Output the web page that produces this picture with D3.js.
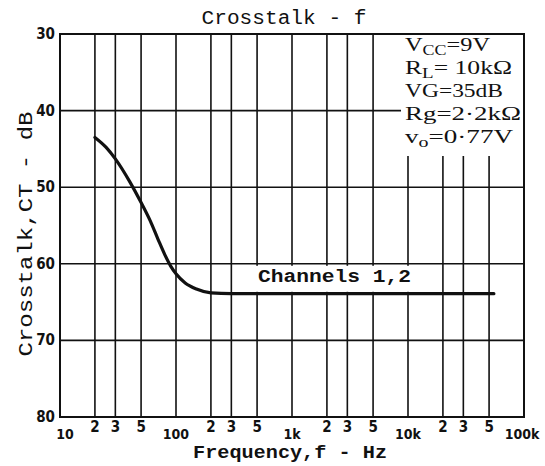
<!DOCTYPE html>
<html>
<head>
<meta charset="utf-8">
<script src="https://cdn.jsdelivr.net/npm/d3@7"></script>
<style>
  body { margin: 0; background: #fff; }
  svg { display: block; }
</style>
</head>
<body>
<svg id="chart" width="545" height="466"></svg>
<script>
// data
const freq = [20, 25, 30, 40, 50, 60, 70, 80, 90, 100, 120, 150, 200, 300, 1000, 10000, 55000]
const crosstalk = [43.5, 44.8, 46.3, 49.3, 52.0, 54.4, 56.8, 58.8, 60.3, 61.3, 62.5, 63.3, 63.8, 63.9, 63.9, 63.9, 63.9]

const yTicks = [30, 40, 50, 60, 70, 80]
const xDecades = [10, 100, 1000, 10000, 100000]
const xDecadeLabels = ["10", "100", "1k", "10k", "100k"]
const xMinor = [20, 30, 50, 200, 300, 500, 2000, 3000, 5000, 20000, 30000, 50000]
const xMinorLabels = ["2", "3", "5", "2", "3", "5", "2", "3", "5", "2", "3", "5"]

let svg = d3.select("#chart")

let pLeft = 60, pRight = 524, pTop = 34, pBottom = 417

let x = d3.scaleLog().domain([10, 100000]).range([pLeft, pRight])
let y = d3.scaleLinear().domain([30, 80]).range([pTop, pBottom])

const ink = "#111"
const mono = "'Liberation Mono', 'DejaVu Sans Mono', monospace"
const tickFont = "'Liberation Sans Narrow', 'DejaVu Sans Condensed', sans-serif"

// grid
let grid = svg.append("g")
grid.selectAll(".vline")
    .data(xMinor.concat(xDecades.slice(1, 4)))
    .join("line")
    .attr("x1", d => x(d)).attr("x2", d => x(d))
    .attr("y1", pTop).attr("y2", pBottom)
    .style("stroke", ink).style("stroke-width", 1.6)

grid.selectAll(".hline")
    .data(yTicks.slice(1, 5))
    .join("line")
    .attr("x1", pLeft).attr("x2", pRight)
    .attr("y1", d => y(d)).attr("y2", d => y(d))
    .style("stroke", ink).style("stroke-width", 1.6)

// white patches behind the condition box and the series label
svg.append("rect")
    .attr("x", 401).attr("y", pTop + 1)
    .attr("width", pRight - 402).attr("height", 121)
    .style("fill", "#fff")

svg.append("rect")
    .attr("x", 253).attr("y", y(60) + 2)
    .attr("width", 163).attr("height", 26)
    .style("fill", "#fff")

// frame
svg.append("rect")
    .attr("x", pLeft).attr("y", pTop)
    .attr("width", pRight - pLeft).attr("height", pBottom - pTop)
    .style("fill", "none").style("stroke", ink).style("stroke-width", 2)

// curve
let line = d3.line()
    .x((d, i) => x(freq[i]))
    .y(d => y(d))
    .curve(d3.curveMonotoneX)

svg.append("path")
    .datum(crosstalk)
    .attr("d", line)
    .style("fill", "none")
    .style("stroke", ink)
    .style("stroke-width", 3.2)
    .style("stroke-linecap", "round")

// y tick labels
svg.selectAll(".ylab")
    .data(yTicks)
    .join("text")
    .attr("x", 55).attr("y", d => y(d) + 5)
    .attr("text-anchor", "end")
    .style("font-family", tickFont).style("font-weight", "bold")
    .style("font-size", "15px").style("fill", ink)
    .text(d => d)

// x tick labels
svg.selectAll(".xdec")
    .data(xDecades)
    .join("text")
    .attr("x", (d, i) => x(d) + (i == 0 ? 5 : (i == 4 ? -2 : 0)))
    .attr("y", 439)
    .attr("text-anchor", "middle")
    .style("font-family", tickFont).style("font-weight", "bold")
    .style("font-size", "14px").style("fill", ink)
    .text((d, i) => xDecadeLabels[i])

svg.selectAll(".xmin")
    .data(xMinor)
    .join("text")
    .attr("x", d => x(d))
    .attr("y", 432)
    .attr("text-anchor", "middle")
    .style("font-family", tickFont).style("font-weight", "bold")
    .style("font-size", "15px").style("fill", ink)
    .text((d, i) => xMinorLabels[i])

// titles
svg.append("text")
    .attr("x", 284).attr("y", 24)
    .attr("text-anchor", "middle")
    .attr("textLength", 165).attr("lengthAdjust", "spacingAndGlyphs")
    .style("font-family", mono).style("font-size", "20px").style("fill", ink)
    .text("Crosstalk - f")

svg.append("text")
    .attr("x", 290).attr("y", 458)
    .attr("text-anchor", "middle")
    .attr("textLength", 194).attr("lengthAdjust", "spacingAndGlyphs")
    .style("font-family", mono).style("font-weight", "bold")
    .style("font-size", "18px").style("fill", ink)
    .text("Frequency,f - Hz")

svg.append("text")
    .attr("transform", "translate(32,234) rotate(-90)")
    .attr("text-anchor", "middle")
    .attr("textLength", 245).attr("lengthAdjust", "spacingAndGlyphs")
    .style("font-family", mono).style("font-size", "20px").style("fill", ink)
    .text("Crosstalk,CT - dB")

svg.append("text")
    .attr("x", 258).attr("y", 282)
    .attr("textLength", 153).attr("lengthAdjust", "spacingAndGlyphs")
    .style("font-family", mono).style("font-weight", "bold")
    .style("font-size", "19px").style("fill", ink)
    .text("Channels 1,2")

// condition box
const conds = [
    [["V", 0], ["CC", 1], ["=9V", 0]],
    [["R", 0], ["L", 1], ["= 10k\u03A9", 0]],
    [["VG=35dB", 0]],
    [["Rg=2\u00B72k\u03A9", 0]],
    [["v", 0], ["o", 1], ["=0\u00B777V", 0]]
]
const condWidths = [85, 107, 98, 116, 108]

let box = svg.append("g")
    .style("font-family", "'Liberation Serif', 'DejaVu Serif', serif")
    .style("font-size", "19px").style("fill", ink)

conds.forEach(function (parts, i) {
    let t = box.append("text").attr("x", 405).attr("y", 51 + i * 23)
        .attr("textLength", condWidths[i]).attr("lengthAdjust", "spacingAndGlyphs")
    let shift = 0
    parts.forEach(function (p) {
        let dy = (p[1] ? 4 : 0) - shift
        shift = p[1] ? 4 : 0
        t.append("tspan")
            .attr("dy", dy)
            .style("font-size", p[1] ? "14px" : "19px")
            .text(p[0])
    })
})
</script>
</body>
</html>
